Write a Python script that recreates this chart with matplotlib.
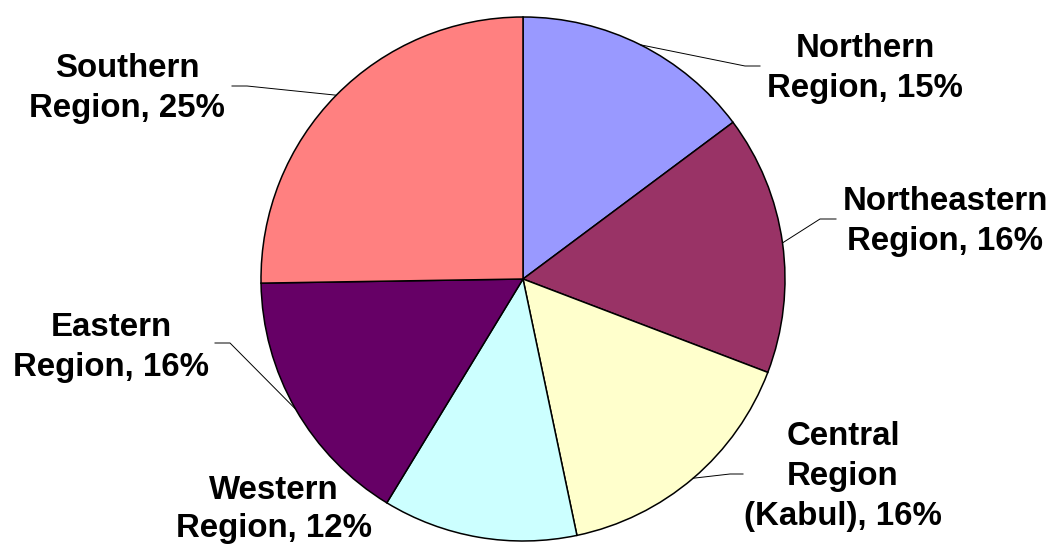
"""Pie chart: share by region (Excel-style, labels with leader lines)."""
import numpy as np
import matplotlib
matplotlib.use("Agg")
import matplotlib.pyplot as plt

regions = ["Northern Region", "Northeastern Region", "Central Region (Kabul)",
           "Western Region", "Eastern Region", "Southern Region"]
shares = [14.8, 16.0, 15.9, 12.0, 16.05, 25.25]
colors = ["#9999FF", "#993366", "#FFFFCC", "#CCFFFF", "#660066", "#FF8080"]
label_lines = [["Northern", "Region, 15%"],
               ["Northeastern", "Region, 16%"],
               ["Central", "Region", "(Kabul), 16%"],
               ["Western", "Region, 12%"],
               ["Eastern", "Region, 16%"],
               ["Southern", "Region, 25%"]]

# layout in image pixels (y down): first-line baseline / x center, leader elbow + end
W, H = 1052, 545
CX, CY, R = 523, 279, 262
lab_pos = [(865, 57), (945, 210), (843, 445), (274, 499), (111, 336), (127, 77)]
elbows = [((745, 66), (760, 66)), ((820, 219), (836, 219)), ((730, 474), (743, 474)),
          None, ((230, 343), (215, 343)), ((247, 86), (232, 86))]
LINE_DY = 40
ROW_DY = [LINE_DY, LINE_DY, LINE_DY, 38, LINE_DY, LINE_DY]

plt.rcParams["font.family"] = ["Liberation Sans", "DejaVu Sans"]
fig = plt.figure(figsize=(W / 100, H / 100), dpi=100)
ax = fig.add_axes([0, 0, 1, 1])
wedges, _ = ax.pie(shares, colors=colors, startangle=90, counterclock=False,
                   center=(CX, H - CY), radius=R,
                   wedgeprops=dict(edgecolor="black", linewidth=1.1))
ax.set_xlim(0, W); ax.set_ylim(0, H); ax.set_aspect("equal"); ax.axis("off")

for w, lines, (lx, ly), el, dy in zip(wedges, label_lines, lab_pos, elbows, ROW_DY):
    for i, t in enumerate(lines):
        ax.text(lx, H - (ly + i * dy), t, ha="center", va="baseline",
                fontsize=23.8, fontweight="bold", color="black")
    if el is None:
        continue
    mid = np.deg2rad((w.theta1 + w.theta2) / 2)
    px, py = CX + R * np.cos(mid), (H - CY) + R * np.sin(mid)
    (ex, ey), (fx, fy) = el
    ax.plot([px, ex, fx], [py, H - ey, H - fy], color="black", lw=0.7)

fig.savefig("out.png", dpi=100)
